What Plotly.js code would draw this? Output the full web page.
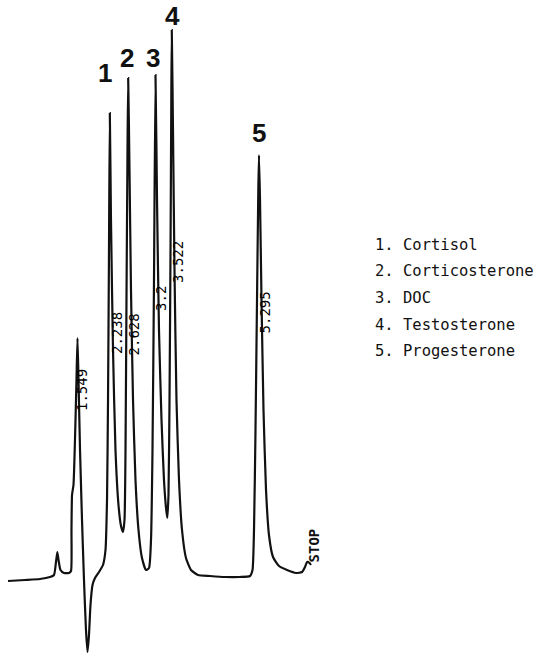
<!DOCTYPE html>
<html>
<head>
<meta charset="utf-8">
<script src="https://cdn.plot.ly/plotly-3.0.1.min.js"></script>
<style>html,body{margin:0;padding:0;background:#fff;}#chart{width:548px;height:657px;}</style>
</head>
<body>
<div id="chart"></div>
<script>
// Chromatogram trace: retention time (min) and detector response (arbitrary units)
var timeMin = [0.115,0.465,0.775,0.981,1.064,1.105,1.132,1.157,1.198,1.270,1.374,1.415,1.425,1.436,1.466,1.497,1.528,1.549,1.570,1.601,1.642,1.683,1.724,1.755,1.786,1.817,1.859,1.910,1.993,2.075,2.127,2.158,2.179,2.199,2.216,2.240,2.282,2.333,2.395,2.447,2.488,2.519,2.540,2.560,2.581,2.595,2.622,2.653,2.695,2.746,2.808,2.880,2.963,3.025,3.066,3.097,3.128,3.159,3.190,3.231,3.283,3.334,3.376,3.402,3.427,3.448,3.469,3.485,3.495,3.520,3.551,3.592,3.644,3.706,3.788,3.892,4.036,4.284,4.593,4.903,5.109,5.161,5.192,5.223,5.254,5.281,5.295,5.316,5.347,5.388,5.440,5.501,5.584,5.708,5.873,6.059,6.183,6.245,6.286,6.338,6.368];
var response = [-1.0,-0.8,-0.6,-0.2,0.2,2.8,4.8,3.2,1.2,0.6,0.6,1.0,9.2,16.2,18.2,27.2,39.2,47.6,39.2,25.2,11.2,-0.8,-10.8,-15.2,-11.8,-5.8,-1.8,-0.4,0.8,2.2,5.2,15.2,35.2,65.2,92.6,71.2,45.2,25.2,14.2,10.0,8.8,11.2,25.2,55.2,85.2,99.6,81.2,57.2,35.2,19.2,9.2,3.6,1.2,1.6,7.2,25.2,59.2,100.2,75.2,49.2,31.2,19.2,13.6,11.6,16.2,35.2,65.2,95.2,109.2,89.2,61.2,35.2,19.2,9.2,3.6,1.2,0.2,0,-0.2,-0.2,0,1.2,9.2,29.2,55.2,77.2,84.2,75.2,55.2,33.2,17.2,8.2,3.8,2.0,1.2,0.6,0.8,1.8,2.8,2.6,2.2];

var retentionLabels = ['1.549','2.238','2.628','3.2','3.522','5.295'];
var peakNumbers = ['1','2','3','4','5'];
var compounds = ['Cortisol','Corticosterone','DOC','Testosterone','Progesterone'];

// label placement (layout only)
var rtPos = [[1.642,37.2],[2.364,48.6],[2.725,48.4],[3.272,55.6],[3.623,62.8],[5.429,52.8]];
var numPos = [[2.120,100.6],[2.565,103.6],[3.110,103.6],[3.515,112.0],[5.290,88.6]];

var annotations = [];
retentionLabels.forEach(function(t,i){
  annotations.push({x:rtPos[i][0], y:rtPos[i][1], xref:'x', yref:'y', text:t, showarrow:false,
    textangle:-90, font:{family:'DejaVu Sans Mono, monospace', size:14, color:'#000'}});
});
peakNumbers.forEach(function(t,i){
  annotations.push({x:numPos[i][0], y:numPos[i][1], xref:'x', yref:'y', text:'<b>'+t+'</b>', showarrow:false,
    font:{family:'Liberation Sans, Arial, sans-serif', size:26, color:'#111'}});
});
compounds.forEach(function(c,i){
  annotations.push({x:373/548, y:1-(245+i*26.5)/657, xref:'paper', yref:'paper', xanchor:'left', yanchor:'middle',
    text:peakNumbers[i]+'. '+c, showarrow:false,
    font:{family:'DejaVu Sans Mono, monospace', size:15.5, color:'#111'}});
});
annotations.push({x:6.440, y:6.2, xref:'x', yref:'y', text:'<b>STOP</b>', showarrow:false, textangle:-90,
  font:{family:'DejaVu Sans Mono, monospace', size:14, color:'#111'}});

var trace = {x:timeMin, y:response, type:'scatter', mode:'lines',
  line:{color:'#111', width:2.2, shape:'spline', smoothing:0.5}, hoverinfo:'skip'};

var layout = {
  width:548, height:657,
  margin:{l:0,r:0,t:0,b:0},
  paper_bgcolor:'#fff', plot_bgcolor:'#fff',
  showlegend:false,
  xaxis:{range:[-0.0506,11.2601], visible:false, fixedrange:true},
  yaxis:{range:[-16.2,115.2], visible:false, fixedrange:true},
  annotations:annotations
};
Plotly.newPlot('chart',[trace],layout,{staticPlot:true,displayModeBar:false});
</script>
</body>
</html>
